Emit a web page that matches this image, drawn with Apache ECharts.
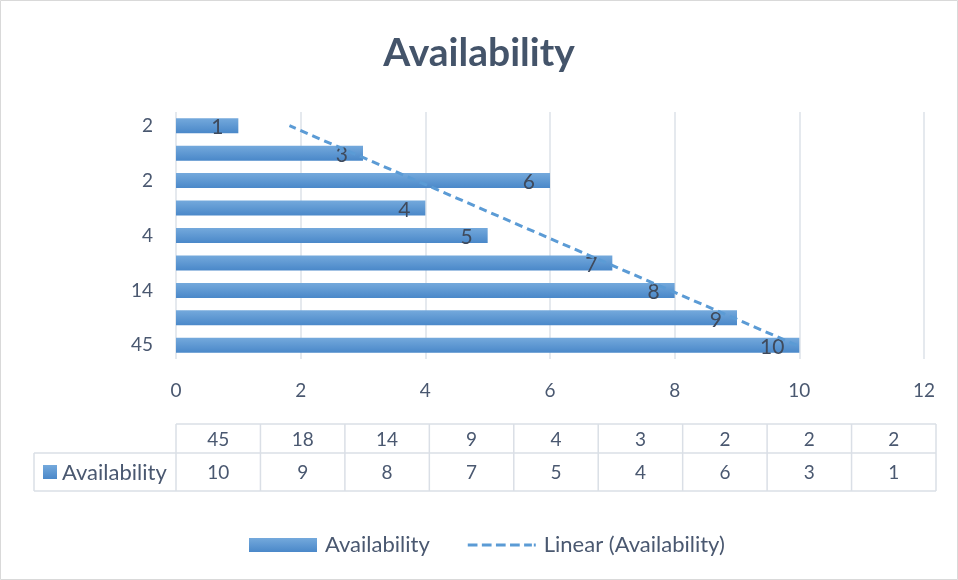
<!DOCTYPE html>
<html>
<head>
<meta charset="utf-8">
<script src="https://cdn.jsdelivr.net/npm/echarts@6/dist/echarts.min.js"></script>
<style>
  html, body { margin: 0; padding: 0; background: #fff; }
  #main { width: 958px; height: 580px; }
</style>
</head>
<body>
<div id="main"></div>
<script>
// categories bottom to top, as in the chart
const categories = ['45', '18', '14', '9', '4', '3', '2', '2', '2'];
const availability = [10, 9, 8, 7, 5, 4, 6, 3, 1];
// linear trendline at the first and last category
const trendEnds = [9.96, 1.82];
const xTicks = [0, 2, 4, 6, 8, 10, 12];

const font = 'Lato, "Open Sans", sans-serif';
const textColor = '#4a5870';
const blue = '#5B9BD5';

var myChart = echarts.init(document.getElementById('main'));

const trendData = categories.map(function (c, i) {
  if (i === 0) return trendEnds[0];
  if (i === categories.length - 1) return trendEnds[1];
  return null;
});

function barGradient() {
  return new echarts.graphic.LinearGradient(0, 0, 0, 1, [
    { offset: 0, color: '#74a9dc' },
    { offset: 1, color: '#4a88c9' }
  ]);
}

// data table below the plot
const tableLeft = 176, tableRight = 936, headLeft = 34;
const rowY = [424, 453, 491];
const colW = (tableRight - tableLeft) / categories.length;
const lineStyle = { stroke: '#dadfe6', lineWidth: 1.5 };
const graphics = [];
function hline(x1, x2, y) {
  graphics.push({ type: 'line', shape: { x1: x1, y1: y, x2: x2, y2: y }, style: lineStyle, silent: true });
}
function vline(x, y1, y2) {
  graphics.push({ type: 'line', shape: { x1: x, y1: y1, x2: x, y2: y2 }, style: lineStyle, silent: true });
}
hline(tableLeft, tableRight, rowY[0]);
hline(headLeft, tableRight, rowY[1]);
hline(headLeft, tableRight, rowY[2]);
vline(headLeft, rowY[1], rowY[2]);
for (let i = 0; i <= categories.length; i++) {
  vline(tableLeft + i * colW, rowY[0], rowY[2]);
}
for (let i = 0; i < categories.length; i++) {
  const cx = tableLeft + (i + 0.5) * colW;
  graphics.push({
    type: 'text', x: cx, y: (rowY[0] + rowY[1]) / 2 + 1,
    style: { text: categories[i], fill: textColor, font: '19px ' + font, textAlign: 'center', textVerticalAlign: 'middle' }
  });
  graphics.push({
    type: 'text', x: cx, y: (rowY[1] + rowY[2]) / 2 + 1,
    style: { text: String(availability[i]), fill: textColor, font: '19px ' + font, textAlign: 'center', textVerticalAlign: 'middle' }
  });
}
graphics.push({
  type: 'rect', shape: { x: 43, y: 465, width: 14, height: 14 },
  style: { fill: barGradient() }
});
graphics.push({
  type: 'text', x: 62, y: (rowY[1] + rowY[2]) / 2 + 1,
  style: { text: 'Availability', fill: textColor, font: '22px ' + font, textAlign: 'left', textVerticalAlign: 'middle' }
});
// faint chart border
graphics.push({
  type: 'rect', shape: { x: 0.5, y: 0.5, width: 957, height: 579 },
  style: { fill: 'none', stroke: '#d9d9d9', lineWidth: 1 }, silent: true
});

const dashIcon = 'path://M0,0h10v3h-10z M14.5,0h10v3h-10z M29,0h10v3h-10z M43.5,0h10v3h-10z M58,0h8v3h-8z M68,0h2v3h-2z';

var option = {
  animation: false,
  backgroundColor: '#fff',
  title: {
    text: 'Availability',
    left: 'center',
    top: 29,
    padding: [5, 0, 5, 23],
    textStyle: { fontFamily: font, fontSize: 39, fontWeight: 'bold', color: '#44546A' }
  },
  legend: {
    top: 529,
    left: 244,
    itemWidth: 68,
    itemHeight: 14,
    itemGap: 38,
    textStyle: { fontFamily: font, fontSize: 22, color: textColor, padding: [0, 0, 0, 3] },
    data: [
      { name: 'Availability', icon: 'rect' },
      { name: 'Linear (Availability)', icon: dashIcon, itemStyle: { color: blue } }
    ]
  },
  grid: {
    left: 176,
    right: 34,
    top: 112,
    bottom: 221
  },
  xAxis: {
    type: 'value',
    min: xTicks[0],
    max: xTicks[xTicks.length - 1],
    interval: 2,
    axisLine: { show: false },
    axisTick: { show: false },
    axisLabel: { fontFamily: font, fontSize: 19, color: textColor, margin: 22 },
    splitLine: { lineStyle: { color: '#dde2e8', width: 1.5 } }
  },
  yAxis: {
    type: 'category',
    data: categories,
    axisLine: { show: false },
    axisTick: { show: false },
    axisLabel: { interval: 1, fontFamily: font, fontSize: 19, color: textColor, margin: 23 }
  },
  series: [
    {
      name: 'Availability',
      type: 'bar',
      data: availability,
      barWidth: 15,
      itemStyle: { color: barGradient() },
      label: {
        show: true,
        position: 'insideRight',
        distance: 15,
        offset: [0, 2],
        fontFamily: font,
        fontSize: 21,
        color: '#3f4a5c'
      },
      z: 2
    },
    {
      name: 'Linear (Availability)',
      type: 'line',
      data: trendData,
      connectNulls: true,
      symbol: 'none',
      lineStyle: { color: blue, width: 3, type: [8, 5] },
      itemStyle: { color: blue },
      z: 3
    }
  ],
  graphic: graphics
};

myChart.setOption(option);
</script>
</body>
</html>
